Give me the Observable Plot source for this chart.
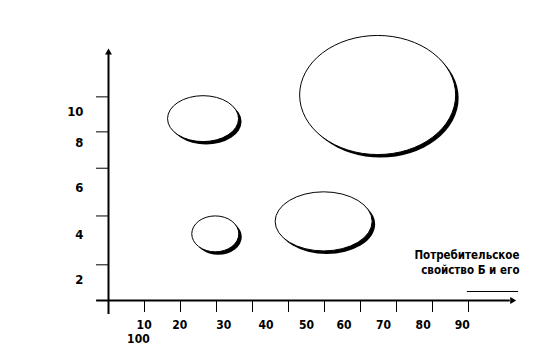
<!DOCTYPE html>
<html>
<head>
<meta charset="utf-8">
<script src="https://cdn.jsdelivr.net/npm/d3@7"></script>
<script src="https://cdn.jsdelivr.net/npm/@observablehq/plot@0.6"></script>
<style>
  html, body { margin: 0; padding: 0; background: #fff; }
</style>
</head>
<body>
<div id="chart"></div>
<script>
// Bubbles: centre and half-extent along each axis, in axis units
const bubbleX = [26.4, 29.8, 74.9, 59.9];
const bubbleY = [9.08, 4.01, 10.12, 4.56];
const spreadX = [9.86, 6.53, 21.67, 13.47];
const spreadY = [1.01, 0.79, 2.62, 1.30];

// Horizontal axis: tick marks and the labels printed under them
const xTicks = [10, 20, 30, 40, 50, 60, 70, 80, 90, 100];
const xTickLabels = ["10", "20", "30", "40", "50", "60", "70", "80", "90"];
const xTickLabelAt = [9.9, 19.8, 32.0, 43.75, 55.0, 65.4, 76.4, 87.4, 98.25];
const xExtraLabels = ["100"];
const xExtraLabelAt = [8.3];

// Vertical axis: tick marks and labels
const yTicks = [2.67, 4.82, 6.92, 8.52, 10.06];
const yTickLabels = ["2", "4", "6", "8", "10"];
const yTickLabelAt = [2.03, 4.01, 6.04, 8.04, 9.4];

// Note at the end of the horizontal axis
const noteLines = ["Потребительское", "свойство Б и его"];

const W = 540, H = 360;
const margin = {top: 50, right: 27, bottom: 60, left: 108};
const xDomain = [0, 112.5];
const yDomain = [1.1, 12.1];

// pixel converters, used only to turn a bubble's extent into corner radii
const xPx = d3.scaleLinear(xDomain, [margin.left, W - margin.right]);
const yPx = d3.scaleLinear(yDomain, [H - margin.bottom, margin.top]);

const bubbles = bubbleX.map((x, i) => ({x, y: bubbleY[i], sx: spreadX[i], sy: spreadY[i]}));

function ellipse(b, opts) {
  return Plot.rect([b], {
    x1: d => d.x - d.sx,
    x2: d => d.x + d.sx,
    y1: d => d.y - d.sy,
    y2: d => d.y + d.sy,
    rx: xPx(b.x + b.sx) - xPx(b.x),
    ry: yPx(b.y - b.sy) - yPx(b.y),
    ...opts
  });
}

const font = "'Liberation Sans Narrow', 'DejaVu Sans Condensed', 'Liberation Sans', sans-serif";

const chart = Plot.plot({
  width: W,
  height: H,
  marginTop: margin.top,
  marginRight: margin.right,
  marginBottom: margin.bottom,
  marginLeft: margin.left,
  style: {background: "#fff", color: "#000", fontFamily: font},
  x: {domain: xDomain, ticks: xTicks, tickSize: 12, tickFormat: () => "", label: null},
  y: {domain: yDomain, ticks: yTicks, tickSize: 12, tickFormat: () => "", label: null},
  marks: [
    // axis lines
    Plot.ruleY([yDomain[0]], {x1: -3.3, x2: 111.6, stroke: "#000", strokeWidth: 2}),
    Plot.ruleX([0], {y1: 0.48, y2: 11.95, stroke: "#000", strokeWidth: 2}),
    // arrowheads
    Plot.dot([0], {frameAnchor: "top-left", symbol: "triangle2", r: 3.3, fill: "#000", stroke: null, dy: 2}),
    Plot.dot([0], {frameAnchor: "bottom-right", symbol: "triangle2", r: 3.3, fill: "#000", stroke: null, rotate: 90, dx: -1.3}),
    // bubbles with a dropped shadow
    ...bubbles.map(b => ellipse(b, {fill: "#000", dx: 3, dy: 3})),
    ...bubbles.map(b => ellipse(b, {fill: "#fff", stroke: "#000", strokeWidth: 1})),
    // tick labels
    Plot.text(xTickLabelAt, {x: d => d, text: (d, i) => xTickLabels[i], frameAnchor: "bottom", dy: 24.5,
      lineAnchor: "middle", fontSize: 12, fontWeight: "bold", fontFamily: font, fill: "#000"}),
    Plot.text(xExtraLabelAt, {x: d => d, text: (d, i) => xExtraLabels[i], frameAnchor: "bottom", dy: 39,
      lineAnchor: "middle", fontSize: 12, fontWeight: "bold", fontFamily: font, fill: "#000"}),
    Plot.text(yTickLabelAt, {y: d => d, text: (d, i) => yTickLabels[i], frameAnchor: "left", dx: -25,
      textAnchor: "end", lineAnchor: "middle", fontSize: 13, fontWeight: "bold", fontFamily: font, fill: "#000"}),
    // note
    Plot.text([noteLines.join("\n")], {frameAnchor: "bottom-right", dx: 6, dy: -39.25, textAnchor: "end",
      lineAnchor: "middle", lineHeight: 1.3, fontSize: 11.5, fontWeight: "bold", fontFamily: font, fill: "#000"}),
    Plot.ruleY([1.496], {x1: 99.7, x2: 113.9, stroke: "#000", strokeWidth: 1})
  ]
});

document.getElementById("chart").appendChild(chart);
</script>
</body>
</html>
